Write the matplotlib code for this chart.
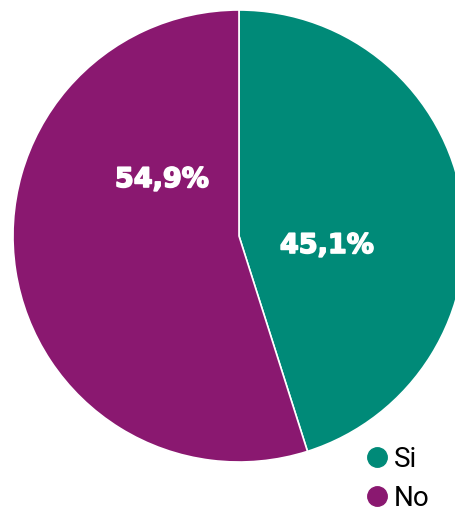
import matplotlib.pyplot as plt
import matplotlib.patheffects as pe
from matplotlib.lines import Line2D

# data
labels = ['Si', 'No']
values = [45.1, 54.9]
colors = ['#008A78', '#8A1870']
pct_text = ['45,1%', '54,9%']

W, H = 455, 513
cx, cy, R = 239, 236, 226   # pie centre / radius in pixels

fig = plt.figure(figsize=(W / 100, H / 100), dpi=100)
ax = fig.add_axes([0, 0, 1, 1])

ax.pie(values, colors=colors, startangle=90, counterclock=False,
       radius=1, center=(0, 0),
       wedgeprops=dict(edgecolor='white', linewidth=1.2))

# map pixels to data units (1 unit = R px)
ax.set_xlim(-cx / R, (W - cx) / R)
ax.set_ylim(-(H - cy) / R, cy / R)
ax.set_aspect('auto')
ax.axis('off')

# label spots (pixel coords in the reference)
label_px = [(327, 246), (162, 180)]
for txt, (px, py) in zip(pct_text, label_px):
    ax.text((px - cx) / R, (cy - py) / R, txt, color='white',
            fontsize=19.5, fontweight='bold', family='DejaVu Sans',
            ha='center', va='center',
            path_effects=[pe.withStroke(linewidth=1.2, foreground='white')])

handles = [Line2D([], [], marker='o', linestyle='none', markersize=14,
                  markerfacecolor=c, markeredgecolor=c) for c in colors]
fig.legend(handles, labels, loc='lower left', bbox_to_anchor=(352 / W, -0.02),
           frameon=False, prop={'family': 'Roboto', 'size': 20},
           handletextpad=0.1, labelspacing=0.45, handlelength=1.0,
           borderaxespad=0)

plt.savefig('out.png', dpi=100)
